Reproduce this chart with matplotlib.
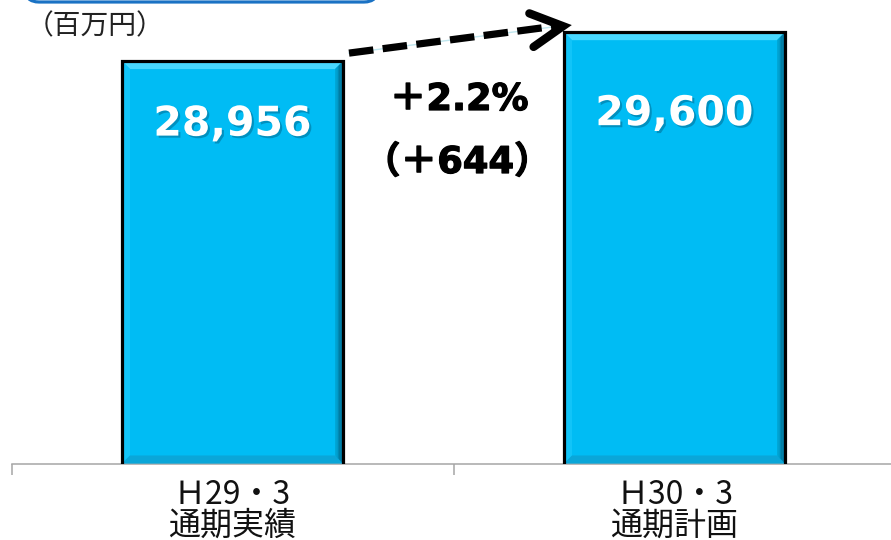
import numpy as np
import matplotlib
matplotlib.use("Agg")
import matplotlib.pyplot as plt
from matplotlib.patches import Polygon, FancyBboxPatch
from matplotlib.lines import Line2D
import matplotlib.patheffects as pe

# ---- data -------------------------------------------------------------
periods = ["Ｈ29・3", "Ｈ30・3"]
kinds = ["通期実績", "通期計画"]
sales = [28956, 29600]          # 百万円
unit_label = "（百万円）"

# ---- style ------------------------------------------------------------
plt.rcParams["font.family"] = ["DejaVu Sans", "Noto Sans CJK JP"]
W, H = 891, 540
FILL = "#00bcf4"
TOP_BEVEL = "#48d8ff"
LEFT_BEVEL = "#12c4f8"
BOTTOM_BEVEL = "#0aa6d8"
RIGHT_INNER = np.array([0x00, 0xae, 0xe0]) / 255
RIGHT_OUTER = np.array([0x00, 0x58, 0x78]) / 255
label_drop_px = [74.5, 93.0]    # baseline of value text below bar top

fig = plt.figure(figsize=(W / 100, H / 100), dpi=100)
ax = fig.add_axes([11.5 / W, 76.5 / H, 884 / W, 463.5 / H])
ax.set_xlim(-0.5, 1.5)
ax.set_ylim(20000, 30316)

x = np.arange(len(sales))
bw = 0.5
ax.bar(x, sales, width=bw, bottom=0, color=FILL, edgecolor="none", zorder=2)

# bevel strips around each bar
to_px = ax.transData.transform
to_data = ax.transData.inverted().transform
b = 8.0
for xi, v in zip(x, sales):
    (x0, y0) = to_px((xi - bw / 2, 20000))
    (x1, y1) = to_px((xi + bw / 2, v))
    polys = [
        ([(x0, y1), (x1, y1), (x1 - b, y1 - b), (x0 + b, y1 - b)], TOP_BEVEL),
        ([(x0, y0), (x0, y1), (x0 + b, y1 - b), (x0 + b, y0 + b)], LEFT_BEVEL),
        ([(x0, y0), (x1, y0), (x1 - b, y0 + b), (x0 + b, y0 + b)], BOTTOM_BEVEL),
    ]
    for pts, col in polys:
        ax.add_patch(Polygon(to_data(np.array(pts)), closed=True, color=col,
                             lw=0, zorder=3))
    n = 6
    for k in range(n):
        t0 = b * k / n
        t1 = b * (k + 1) / n
        pts = [(x1 - b + t0, y1 - (b - t0)), (x1 - b + t1, y1 - (b - t1)),
               (x1 - b + t1, y0 + (b - t1)), (x1 - b + t0, y0 + (b - t0))]
        c = RIGHT_INNER + (RIGHT_OUTER - RIGHT_INNER) * (k + 0.5) / n
        ax.add_patch(Polygon(to_data(np.array(pts)), closed=True, color=c,
                             lw=0, zorder=3))

ax.bar(x, sales, width=bw, fill=False, edgecolor="black", linewidth=2.3,
       zorder=4)

# value labels inside bars
shadow = [pe.SimplePatchShadow(offset=(1.5, -1.5), shadow_rgbFace="#005070",
                               alpha=0.4), pe.Normal()]
for xi, v, drop in zip(x, sales, label_drop_px):
    ax.annotate(f"{v:,}", xy=(xi, v), xytext=(0, -drop * 0.72),
                textcoords="offset points", ha="center", va="baseline",
                color="white", fontsize=29.5, fontweight="bold",
                path_effects=shadow, zorder=5)

# axis styling
for s in ("left", "right", "top"):
    ax.spines[s].set_visible(False)
ax.spines["bottom"].set_color("#a6a6a6")
ax.spines["bottom"].set_linewidth(1.1)
ax.set_yticks([])
ax.set_xticks([-0.5, 0.5, 1.5])
ax.set_xticklabels([])
ax.tick_params(axis="x", direction="out", length=8, width=1.1,
               color="#a6a6a6")

# category labels (two lines)
cjk = ["Noto Sans CJK JP", "DejaVu Sans"]
for xi, p, k in zip(x, periods, kinds):
    ax.annotate(p, xy=(xi, 0), xycoords=("data", "axes fraction"),
                xytext=(0, -31.5 * 0.72), textcoords="offset points",
                ha="center", va="center", fontsize=23, family=cjk,
                color="#111111")
    ax.annotate(k, xy=(xi, 0), xycoords=("data", "axes fraction"),
                xytext=(0, -62.0 * 0.72), textcoords="offset points",
                ha="center", va="center", fontsize=23, family=cjk,
                color="#111111")

# growth annotation
diff = sales[1] - sales[0]
pct = diff / sales[0] * 100
heavy = [pe.withStroke(linewidth=0.9, foreground="black")]
fig.text(459 / W, 1 - 110 / H, f"＋{pct:.1f}%", ha="center", va="baseline",
         fontsize=26.5, fontweight="bold", color="black", path_effects=heavy)
fig.text(457 / W, 1 - 173 / H, f"（＋{diff:,}）", ha="center", va="baseline",
         fontsize=26.5, fontweight="bold", color="black", path_effects=heavy)

# dashed arrow from first bar to second bar
sx, sy = to_px((x[0] + bw / 2, sales[0]))
ex, ey = to_px((x[1] - bw / 2, sales[1]))
start = np.array([sx + 6, sy + 8])
tip = np.array([ex - 1, ey + 6])
fig.add_artist(Line2D([start[0], tip[0] - 4], [start[1], tip[1]],
                      transform=None, color="#bfe6ee", lw=1.0, zorder=5))
fig.add_artist(Line2D([start[0], tip[0] - 4], [start[1], tip[1] + 0.5],
                      transform=None, color="black", lw=5.2,
                      dashes=(3.4, 1.3), solid_capstyle="butt",
                      dash_capstyle="butt", zorder=6))
back = (start - tip) / np.linalg.norm(start - tip)
arms = []
for ang in (28, -28):
    r = np.deg2rad(ang)
    rot = np.array([[np.cos(r), -np.sin(r)], [np.sin(r), np.cos(r)]])
    arms.append(tip + rot @ back * 36)
fig.add_artist(Line2D([arms[0][0], tip[0], arms[1][0]],
                      [arms[0][1], tip[1], arms[1][1]], transform=None,
                      color="black", lw=6.0, solid_joinstyle="miter",
                      solid_capstyle="round", zorder=6))

# unit box and label at top-left
fig.add_artist(FancyBboxPatch((25, H - 2), 353, 60,
                              boxstyle="round,pad=0,rounding_size=14",
                              transform=None, facecolor="white",
                              edgecolor="#1a72c4", lw=2.3, zorder=7))
fig.text(26 / W, 1 - 26 / H, unit_label, ha="left", va="center",
         fontsize=20, family=cjk, color="#222222")

fig.savefig("out.png", dpi=100)
